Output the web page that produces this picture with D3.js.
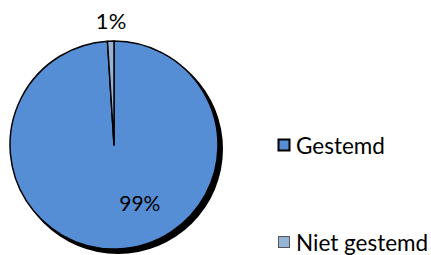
<!DOCTYPE html>
<html>
<head>
<meta charset="utf-8">
<script src="https://cdn.jsdelivr.net/npm/d3@7"></script>
<style>
  html, body { margin: 0; padding: 0; background: #fff; }
  svg { display: block; }
  text { font-family: Lato, "Open Sans", sans-serif; fill: #000; }
</style>
</head>
<body>
<svg id="chart"></svg>
<script>
// data
const categories = ['Gestemd', 'Niet gestemd'];
const values = [99, 1];
const labels = ['99%', '1%'];
const colors = ['#558ed5', '#95b3d7'];

const width = 431, height = 255;
const cx = 114, cy = 145, radius = 104;

const svg = d3.select('#chart').attr('width', width).attr('height', height);

const pie = d3.pie().sort(null).value(d => d.value);
const arcs = pie(categories.map((c, i) => ({ name: c, value: values[i], label: labels[i], color: colors[i] })));

const arc = d3.arc().innerRadius(0).outerRadius(radius);

// shadow
svg.append('circle')
  .attr('cx', cx + 4)
  .attr('cy', cy + 4)
  .attr('r', radius + 1)
  .attr('fill', '#000');

const g = svg.append('g').attr('transform', `translate(${cx},${cy})`);

g.selectAll('path')
  .data(arcs)
  .enter()
  .append('path')
  .attr('d', arc)
  .attr('fill', d => d.data.color)
  .attr('stroke', '#000')
  .attr('stroke-width', 1.5)
  .attr('stroke-linejoin', 'round');

// data labels
const inside = d3.arc().innerRadius(radius * 0.55).outerRadius(radius * 0.55);
const outside = d3.arc().innerRadius(radius + 21).outerRadius(radius + 21);

g.selectAll('text.lbl')
  .data(arcs)
  .enter()
  .append('text')
  .attr('class', 'lbl')
  .attr('transform', d => {
    const p = d.data.value > 50 ? inside.centroid(d) : outside.centroid(d);
    const dx = d.data.value > 50 ? 24 : 1;
    return `translate(${p[0] + dx},${p[1]})`;
  })
  .attr('text-anchor', 'middle')
  .attr('dominant-baseline', 'central')
  .style('font-size', d => d.data.value > 50 ? '21px' : '22px')
  .text(d => d.data.label);

// legend
const legend = svg.append('g').attr('transform', 'translate(278,139)');
const item = legend.selectAll('g')
  .data(arcs)
  .enter()
  .append('g')
  .attr('transform', (d, i) => `translate(0,${i * 97})`);

item.append('rect')
  .attr('x', 0.5)
  .attr('y', 0.5)
  .attr('width', 11)
  .attr('height', 11)
  .attr('fill', d => d.data.color)
  .attr('stroke', (d, i) => i === 0 ? '#000' : '#555')
  .attr('stroke-width', (d, i) => i === 0 ? 2 : 1);

item.append('text')
  .attr('x', 18)
  .attr('y', 6)
  .attr('dominant-baseline', 'central')
  .style('font-size', '22.5px')
  .text(d => d.data.name);
</script>
</body>
</html>
